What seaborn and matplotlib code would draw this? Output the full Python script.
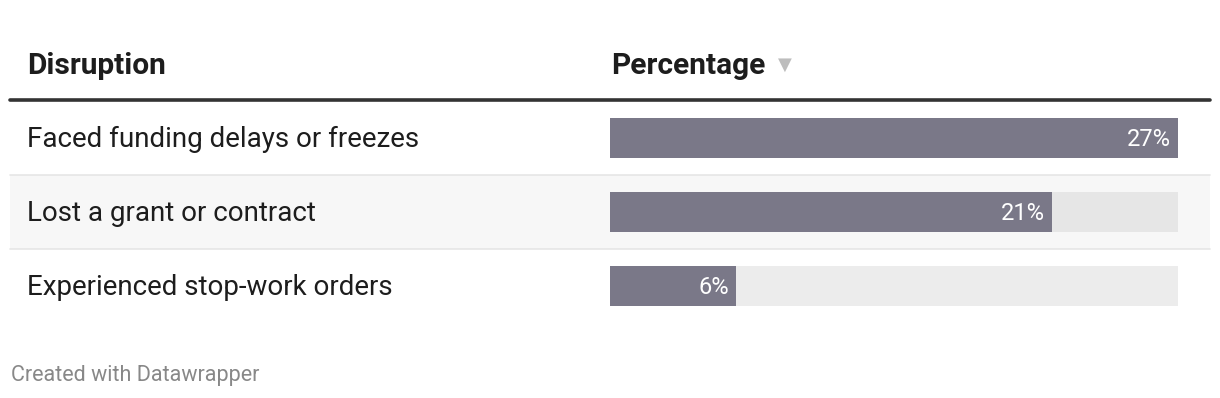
import matplotlib
matplotlib.use("Agg")
import matplotlib.pyplot as plt
import seaborn as sns
import pandas as pd
from matplotlib.patches import Rectangle
from matplotlib.lines import Line2D

categories = ["Faced funding delays or freezes", "Lost a grant or contract", "Experienced stop-work orders"]
values = [27, 21, 6]
value_labels = ["27%", "21%", "6%"]
col_headers = ["Disruption", "Percentage"]
footer = "Created with Datawrapper"

sns.set_theme(style="white")
plt.rcParams["font.family"] = ["Roboto", "DejaVu Sans"]

W, H = 1220, 398
fig = plt.figure(figsize=(W / 100, H / 100), dpi=100)
fig.patch.set_facecolor("white")

def fx(px):
    return px / W

def fy(py):
    return 1 - py / H

# striped row background (row 2)
fig.patches.append(Rectangle((fx(10), fy(249)), fx(1200), (74) / H, transform=fig.transFigure,
                             facecolor="#f7f7f7", edgecolor="none", zorder=0))
for yy in [175, 249]:
    fig.lines.append(Line2D([fx(10), fx(1210)], [fy(yy), fy(yy)], transform=fig.transFigure,
                            color="#e6e6e6", lw=1.2, zorder=1))
# header rule
fig.lines.append(Line2D([fx(10), fx(1210)], [fy(100), fy(100)], transform=fig.transFigure,
                        color="#333333", lw=2.6, zorder=2))

# header text
fig.text(fx(27), fy(65.5), col_headers[0], fontsize=21.5, fontweight="bold", color="#1d1d1d",
         ha="left", va="center")
fig.text(fx(611), fy(65.5), col_headers[1], fontsize=21.5, fontweight="bold", color="#1d1d1d",
         ha="left", va="center")
fig.text(fx(778), fy(65), "▼", fontsize=13, color="#bdbdbd", ha="left", va="center",
         family=["DejaVu Sans"])

# row labels
for i, c in enumerate(categories):
    fig.text(fx(27), fy(139.5 + 74 * i), c, fontsize=20, color="#1d1d1d", ha="left", va="center")

# bars axes
ax = fig.add_axes([fx(610), fy(323), fx(568), 222 / H])
ax.set_zorder(5)
ax.set_facecolor("none")
df = pd.DataFrame({"cat": categories, "val": values, "track": [max(values)] * len(values)})
track_colors = ["#e6e6e6", "#e6e6e6", "#ececec"]
sns.barplot(data=df, y="cat", x="track", orient="h", ax=ax, width=40 / 74,
            palette=track_colors, hue="cat", legend=False, saturation=1, linewidth=0)
sns.barplot(data=df, y="cat", x="val", orient="h", ax=ax, width=40 / 74,
            color="#7a7888", saturation=1, linewidth=0)
ax.set_xlim(0, max(values))
ax.set_ylim(2.5, -0.5)
ax.set_axis_off()
for i, (v, lab) in enumerate(zip(values, value_labels)):
    ax.annotate(lab, xy=(v, i), xytext=(-5, -1.2), textcoords="offset points",
                ha="right", va="center", color="white", fontsize=17)

fig.text(fx(11), fy(376), footer, fontsize=15.5, color="#888888", ha="left", va="center")

fig.savefig("out.png", dpi=100)
